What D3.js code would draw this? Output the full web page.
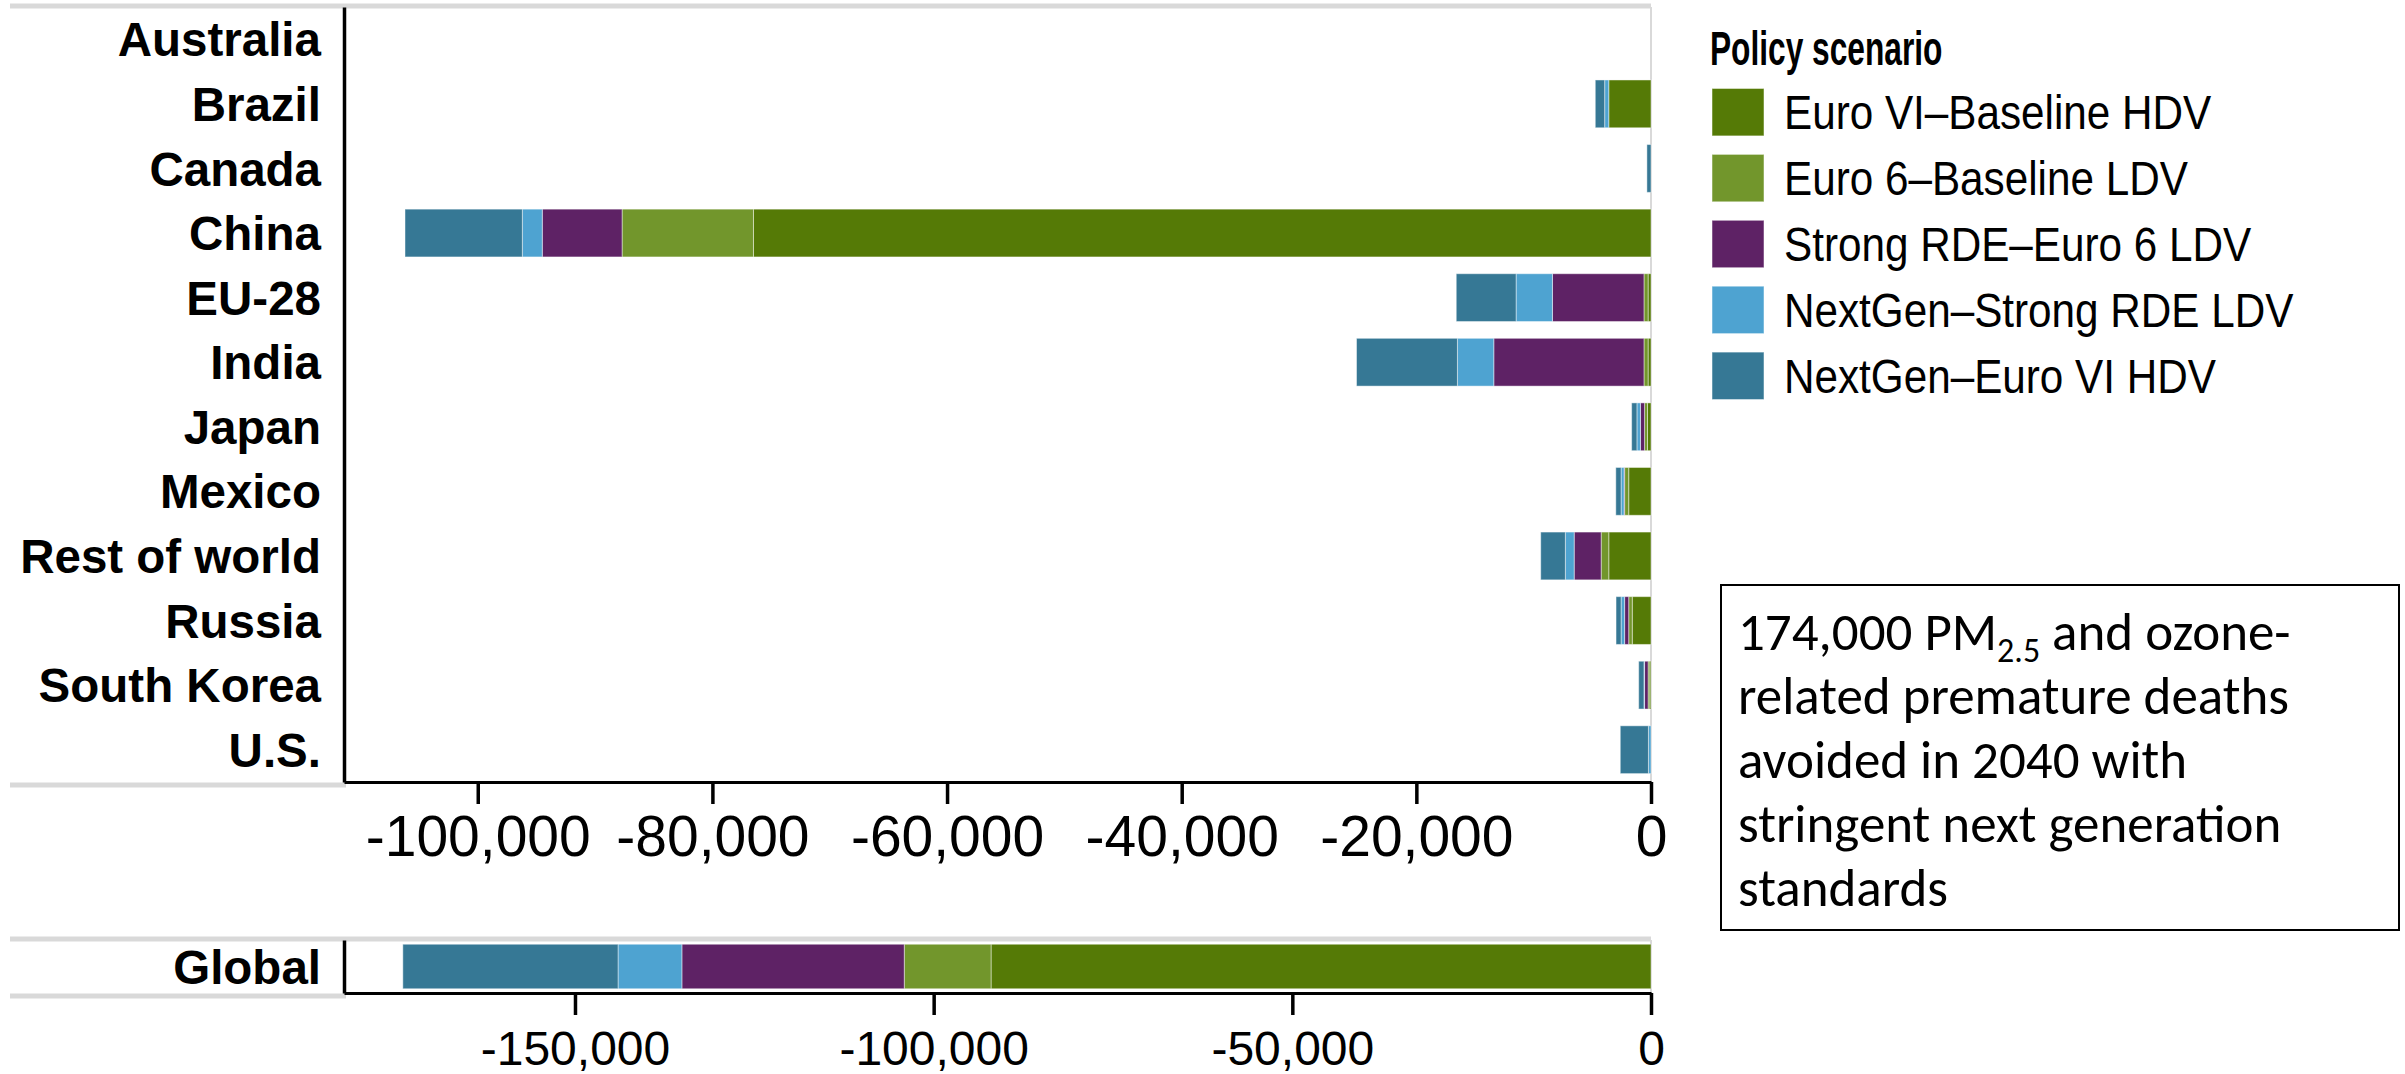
<!DOCTYPE html>
<html>
<head>
<meta charset="utf-8">
<script src="https://cdn.jsdelivr.net/npm/d3@7"></script>
<style>
  html, body { margin: 0; padding: 0; background: #ffffff; }
  svg { display: block; }
</style>
</head>
<body>
<div id="chart"></div>
<script>
// ---------------- DATA ----------------
const categories = ["Australia", "Brazil", "Canada", "China", "EU-28", "India", "Japan",
  "Mexico", "Rest of world", "Russia", "South Korea", "U.S."];
const seriesNames = ["Euro VI\u2013Baseline HDV", "Euro 6\u2013Baseline LDV",
  "Strong RDE\u2013Euro 6 LDV", "NextGen\u2013Strong RDE LDV", "NextGen\u2013Euro VI HDV"];
const seriesColors = ["#557A06", "#72962C", "#5E2265", "#4EA3D1", "#367895"];

// premature deaths avoided (shown as negative change), per country
const euroVIBaselineHDV   = [0, 3600, 0, 76500, 250, 250, 300, 1900, 3600, 1600, 100, 0];
const euro6BaselineLDV    = [0, 0, 0, 11200, 350, 350, 250, 350, 650, 300, 150, 0];
const strongRDEEuro6LDV   = [0, 0, 0, 6800, 7800, 12800, 350, 50, 2300, 350, 300, 0];
const nextGenStrongRDELDV = [0, 350, 0, 1700, 3100, 3100, 300, 250, 750, 300, 50, 220];
const nextGenEuroVIHDV    = [0, 800, 350, 10000, 5100, 8600, 450, 450, 2100, 430, 450, 2400];

const globalCategory = ["Global"];
const globalValues = [92000, 12100, 31000, 8900, 30000];

const topTicks = [-100000, -80000, -60000, -40000, -20000, 0];
const globalTicks = [-150000, -100000, -50000, 0];
const topDomain = [-111400, 0];
const globalDomain = [-182200, 0];

const legendTitle = "Policy scenario";
const noteLines = [
  [{t: "174,000 PM"}, {t: "2.5", sub: true}, {t: " and ozone-"}],
  [{t: "related premature deaths"}],
  [{t: "avoided in 2040 with"}],
  [{t: "stringent next generation"}],
  [{t: "standards"}]
];

// ---------------- SETUP ----------------
const W = 2405, H = 1074;
const svg = d3.select("#chart").append("svg").attr("width", W).attr("height", H);
const locale = d3.formatLocale({decimal: ".", thousands: ",", grouping: [3], currency: ["$", ""], minus: "-"});
const fmt = locale.format(",");
const grey = "#d9d9d9";
const labelFont = "'Liberation Sans', Arial, Helvetica, sans-serif";

const seriesArrays = [euroVIBaselineHDV, euro6BaselineLDV, strongRDEEuro6LDV, nextGenStrongRDELDV, nextGenEuroVIHDV];
const rows = categories.map((c, i) => {
  const r = {category: c};
  seriesNames.forEach((s, j) => r[s] = -seriesArrays[j][i]);
  return r;
});
const globalRows = globalCategory.map(c => {
  const r = {category: c};
  seriesNames.forEach((s, j) => r[s] = -globalValues[j]);
  return r;
});
const stacker = d3.stack().keys(seriesNames).offset(d3.stackOffsetDiverging);
const color = d3.scaleOrdinal().domain(seriesNames).range(seriesColors);

const left = 344, right = 1651;

function panel(data, cats, domain, ticks, top, bottom, pad, tickFont, tickPad) {
  const x = d3.scaleLinear().domain(domain).range([left, right]);
  const y = d3.scaleBand().domain(cats).range([top, bottom]).paddingInner(pad).paddingOuter(pad / 2);
  const g = svg.append("g");

  // frame lines (grey)
  g.append("line").attr("x1", 10).attr("x2", right).attr("y1", top - 1).attr("y2", top - 1)
    .attr("stroke", grey).attr("stroke-width", 5);
  g.append("line").attr("x1", 10).attr("x2", left + 2).attr("y1", bottom + 3).attr("y2", bottom + 3)
    .attr("stroke", grey).attr("stroke-width", 5);
  g.append("line").attr("x1", right).attr("x2", right).attr("y1", top).attr("y2", bottom)
    .attr("stroke", grey).attr("stroke-width", 2);

  // bars
  const stacked = stacker(data);
  g.selectAll("g.series").data(stacked).join("g")
    .attr("class", "series")
    .attr("fill", d => color(d.key))
    .selectAll("rect").data(d => d.filter(v => v[1] - v[0] !== 0)).join("rect")
    .attr("x", d => x(Math.min(d[0], d[1])))
    .attr("width", d => Math.abs(x(d[1]) - x(d[0])))
    .attr("y", d => y(d.data.category))
    .attr("height", y.bandwidth())
    .attr("stroke", "rgba(255,255,255,0.45)")
    .attr("stroke-width", 1);

  // y axis
  const ya = g.append("g").attr("transform", `translate(${left},0)`)
    .call(d3.axisLeft(y).tickSize(0).tickPadding(23));
  ya.select(".domain").attr("stroke", "#000").attr("stroke-width", 3.5);
  ya.selectAll("text").attr("font-family", labelFont).attr("font-weight", "bold")
    .attr("font-size", 47.5).attr("fill", "#000").attr("dy", "0.36em");

  // x axis
  const xa = g.append("g").attr("transform", `translate(0,${bottom})`)
    .call(d3.axisBottom(x).tickValues(ticks).tickFormat(fmt).tickSize(22).tickSizeOuter(0).tickPadding(tickPad));
  xa.select(".domain").attr("stroke", "#000").attr("stroke-width", 3);
  xa.selectAll(".tick line").attr("stroke", "#000").attr("stroke-width", 3.5);
  xa.selectAll("text").attr("font-family", labelFont).attr("font-size", tickFont).attr("fill", "#000");
}

panel(rows, categories, topDomain, topTicks, 7, 782, 0.26, 57, 12);
panel(globalRows, globalCategory, globalDomain, globalTicks, 940, 993, 0.16, 48, 16);

// ---------------- LEGEND ----------------
const lg = svg.append("g");
lg.append("g").attr("transform", "translate(1710,65) scale(0.66,1)")
  .append("text").text(legendTitle)
  .attr("font-family", labelFont).attr("font-weight", "bold").attr("font-size", 48).attr("fill", "#000");
const legendY = d3.scaleBand().domain(seriesNames).range([70, 418]).padding(0.28);
seriesNames.forEach(s => {
  const yy = legendY(s);
  lg.append("rect").attr("x", 1712).attr("y", yy).attr("width", 52).attr("height", legendY.bandwidth())
    .attr("fill", color(s)).attr("stroke", "rgba(255,255,255,0.5)").attr("stroke-width", 1);
  lg.append("g").attr("transform", `translate(1784,${yy + legendY.bandwidth() / 2 + 17}) scale(0.88,1)`)
    .append("text").text(s)
    .attr("font-family", labelFont).attr("font-size", 48).attr("fill", "#000");
});

// ---------------- NOTE BOX ----------------
const nb = svg.append("g");
nb.append("rect").attr("x", 1721).attr("y", 585).attr("width", 678).attr("height", 345)
  .attr("fill", "#fff").attr("stroke", "#000").attr("stroke-width", 2);
const noteFont = "Carlito, Lato, 'Open Sans', sans-serif";
noteLines.forEach((line, i) => {
  const t = nb.append("text").attr("x", 1738).attr("y", 650 + i * 64)
    .attr("font-family", noteFont).attr("font-size", 53).attr("fill", "#000");
  line.forEach(part => {
    if (part.sub) {
      t.append("tspan").text(part.t).attr("font-size", 34).attr("dy", 12);
    } else {
      const sp = t.append("tspan").text(part.t);
      if (t.selectAll("tspan").size() > 1) sp.attr("dy", -12);
    }
  });
});
</script>
</body>
</html>
